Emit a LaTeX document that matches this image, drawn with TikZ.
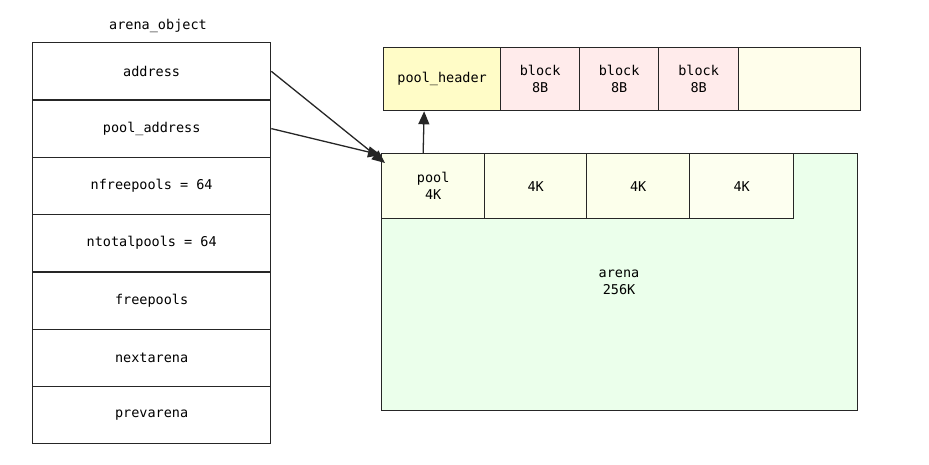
\documentclass[tikz,border=0pt]{standalone}
\usepackage{fontspec}
\setmonofont{DejaVu Sans Mono}
\usetikzlibrary{arrows.meta}
\begin{document}
\begin{tikzpicture}[x=1pt,y=-1pt,
 txt/.style={inner sep=0pt,align=center,font=\ttfamily\fontsize{13.5}{17}\selectfont},
 box/.style={txt,draw=black!85,line width=1.3pt},
 arr/.style={-{Triangle[length=13pt,width=11pt]},line width=1.3pt,black!85}]
\useasboundingbox (0,0) rectangle (929,465);
\node[txt] (title) at (158,26) {arena\_object};
\foreach \n/\t [count=\i from 0] in {a/address,b/pool\_address,c/nfreepools = 64,d/ntotalpools = 64,e/freepools,f/nextarena,g/prevarena}{
  \node[box,minimum width=238pt,minimum height=57.3pt,anchor=north west] (\n) at (32,42+57.3*\i) {\t};
}
% top bar
\node[box,fill=yellow!8,minimum width=477pt,minimum height=63pt,anchor=north west] (bar) at (383,47) {};
\node[box,fill=yellow!22,minimum width=117pt,minimum height=63pt,anchor=north west] (ph) at (383,47) {pool\_header};
\node[box,fill=red!8,minimum width=79pt,minimum height=63pt,anchor=north west] (b1) at (500,47) {block\\8B};
\node[box,fill=red!8,minimum width=79pt,minimum height=63pt,anchor=north west] (b2) at (579,47) {block\\8B};
\node[box,fill=red!8,minimum width=80pt,minimum height=63pt,anchor=north west] (b3) at (658,47) {block\\8B};
% arena
\node[box,fill=green!8,minimum width=476pt,minimum height=257pt,anchor=north west] (arena) at (381,153) {};
\node[box,fill=green!14!yellow!8,minimum width=103pt,minimum height=65pt,anchor=north west] (p1) at (381,153) {pool\\4K};
\node[box,fill=green!14!yellow!8,minimum width=102pt,minimum height=65pt,anchor=north west] (p2) at (484,153) {4K};
\node[box,fill=green!14!yellow!8,minimum width=103pt,minimum height=65pt,anchor=north west] (p3) at (586,153) {4K};
\node[box,fill=green!16!yellow!6,minimum width=104pt,minimum height=65pt,anchor=north west] (p4) at (689,153) {4K};
\node[txt] (arenalbl) at (619,282) {arena\\256K};
% connectors
\draw[arr] (a.east) -- ([xshift=4pt,yshift=-10pt]p1.north west);
\draw[arr] (b.east) -- ([yshift=-2pt]p1.north west);
\draw[arr] ([xshift=-10pt]p1.north) -- ([xshift=-18pt]ph.south);
\end{tikzpicture}
\end{document}
